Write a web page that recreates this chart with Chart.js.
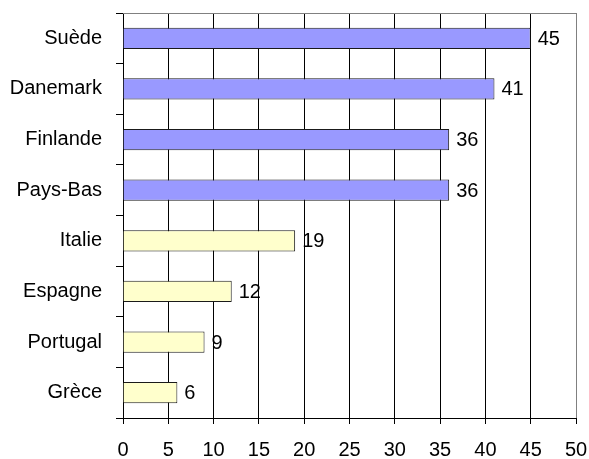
<!DOCTYPE html>
<html>
<head>
<meta charset="utf-8">
<script src="https://cdn.jsdelivr.net/npm/chart.js@4/dist/chart.umd.min.js"></script>
<style>
  html, body { margin: 0; padding: 0; background: #fff; }
  #wrap { width: 589px; height: 459px; }
</style>
</head>
<body>
<div id="wrap"><canvas id="chart"></canvas></div>
<script>
const countries = ["Suède", "Danemark", "Finlande", "Pays-Bas", "Italie", "Espagne", "Portugal", "Grèce"];
const values = [45, 41, 36, 36, 19, 12, 9, 6];
const barColors = ["#9999FF", "#9999FF", "#9999FF", "#9999FF", "#FFFFCC", "#FFFFCC", "#FFFFCC", "#FFFFCC"];
const xTicks = [0, 5, 10, 15, 20, 25, 30, 35, 40, 45, 50];

const fontFamily = "'Liberation Sans', Arial, sans-serif";

// value labels to the right of each bar + gray frame on top/right
const extras = {
  id: "extras",
  afterDatasetsDraw(chart) {
    const ctx = chart.ctx;
    const area = chart.chartArea;
    ctx.save();
    ctx.strokeStyle = "#808080";
    ctx.lineWidth = 1;
    ctx.beginPath();
    ctx.moveTo(area.left, area.top + 0.5);
    ctx.lineTo(area.right + 0.5, area.top + 0.5);
    ctx.lineTo(area.right + 0.5, area.bottom);
    ctx.stroke();

    ctx.fillStyle = "#000";
    ctx.font = "20px " + fontFamily;
    ctx.textAlign = "left";
    ctx.textBaseline = "middle";
    chart.getDatasetMeta(0).data.forEach((bar, i) => {
      ctx.fillText(values[i], bar.x + 7, bar.y + 1);
    });
    ctx.restore();
  }
};

new Chart(document.getElementById("chart"), {
  type: "bar",
  data: {
    labels: countries,
    datasets: [{
      data: values,
      backgroundColor: barColors,
      borderColor: "#1a1a1a",
      borderWidth: 1,
      barPercentage: 0.42,
      categoryPercentage: 1
    }]
  },
  options: {
    indexAxis: "y",
    responsive: true,
    maintainAspectRatio: false,
    animation: false,
    layout: { padding: { top: 13, right: 13, left: 0, bottom: 0 } },
    plugins: {
      legend: { display: false },
      tooltip: { enabled: false }
    },
    scales: {
      x: {
        min: 0,
        max: 50,
        afterBuildTicks: (scale) => { scale.ticks = xTicks.map(v => ({ value: v })); },
        afterFit: (scale) => {
          scale.height = 41;
          scale.paddingLeft = 0;
          scale.paddingRight = 0;
        },
        border: { color: "#000", width: 1 },
        grid: {
          color: (c) => c.index === 10 ? "#808080" : "#000",
          lineWidth: 1,
          drawTicks: true,
          tickLength: 6,
          tickColor: "#000"
        },
        ticks: {
          color: "#000",
          font: { size: 20, family: fontFamily },
          padding: 14,
          maxRotation: 0
        }
      },
      y: {
        offset: true,
        afterFit: (scale) => {
          scale.width = 123;
          scale.paddingTop = 0;
          scale.paddingBottom = 0;
        },
        border: { color: "#000", width: 1 },
        grid: {
          offset: true,
          drawOnChartArea: false,
          drawTicks: true,
          tickLength: 7,
          color: "#000"
        },
        ticks: {
          color: "#000",
          font: { size: 20, family: fontFamily },
          padding: 14
        }
      }
    }
  },
  plugins: [extras]
});
</script>
</body>
</html>
